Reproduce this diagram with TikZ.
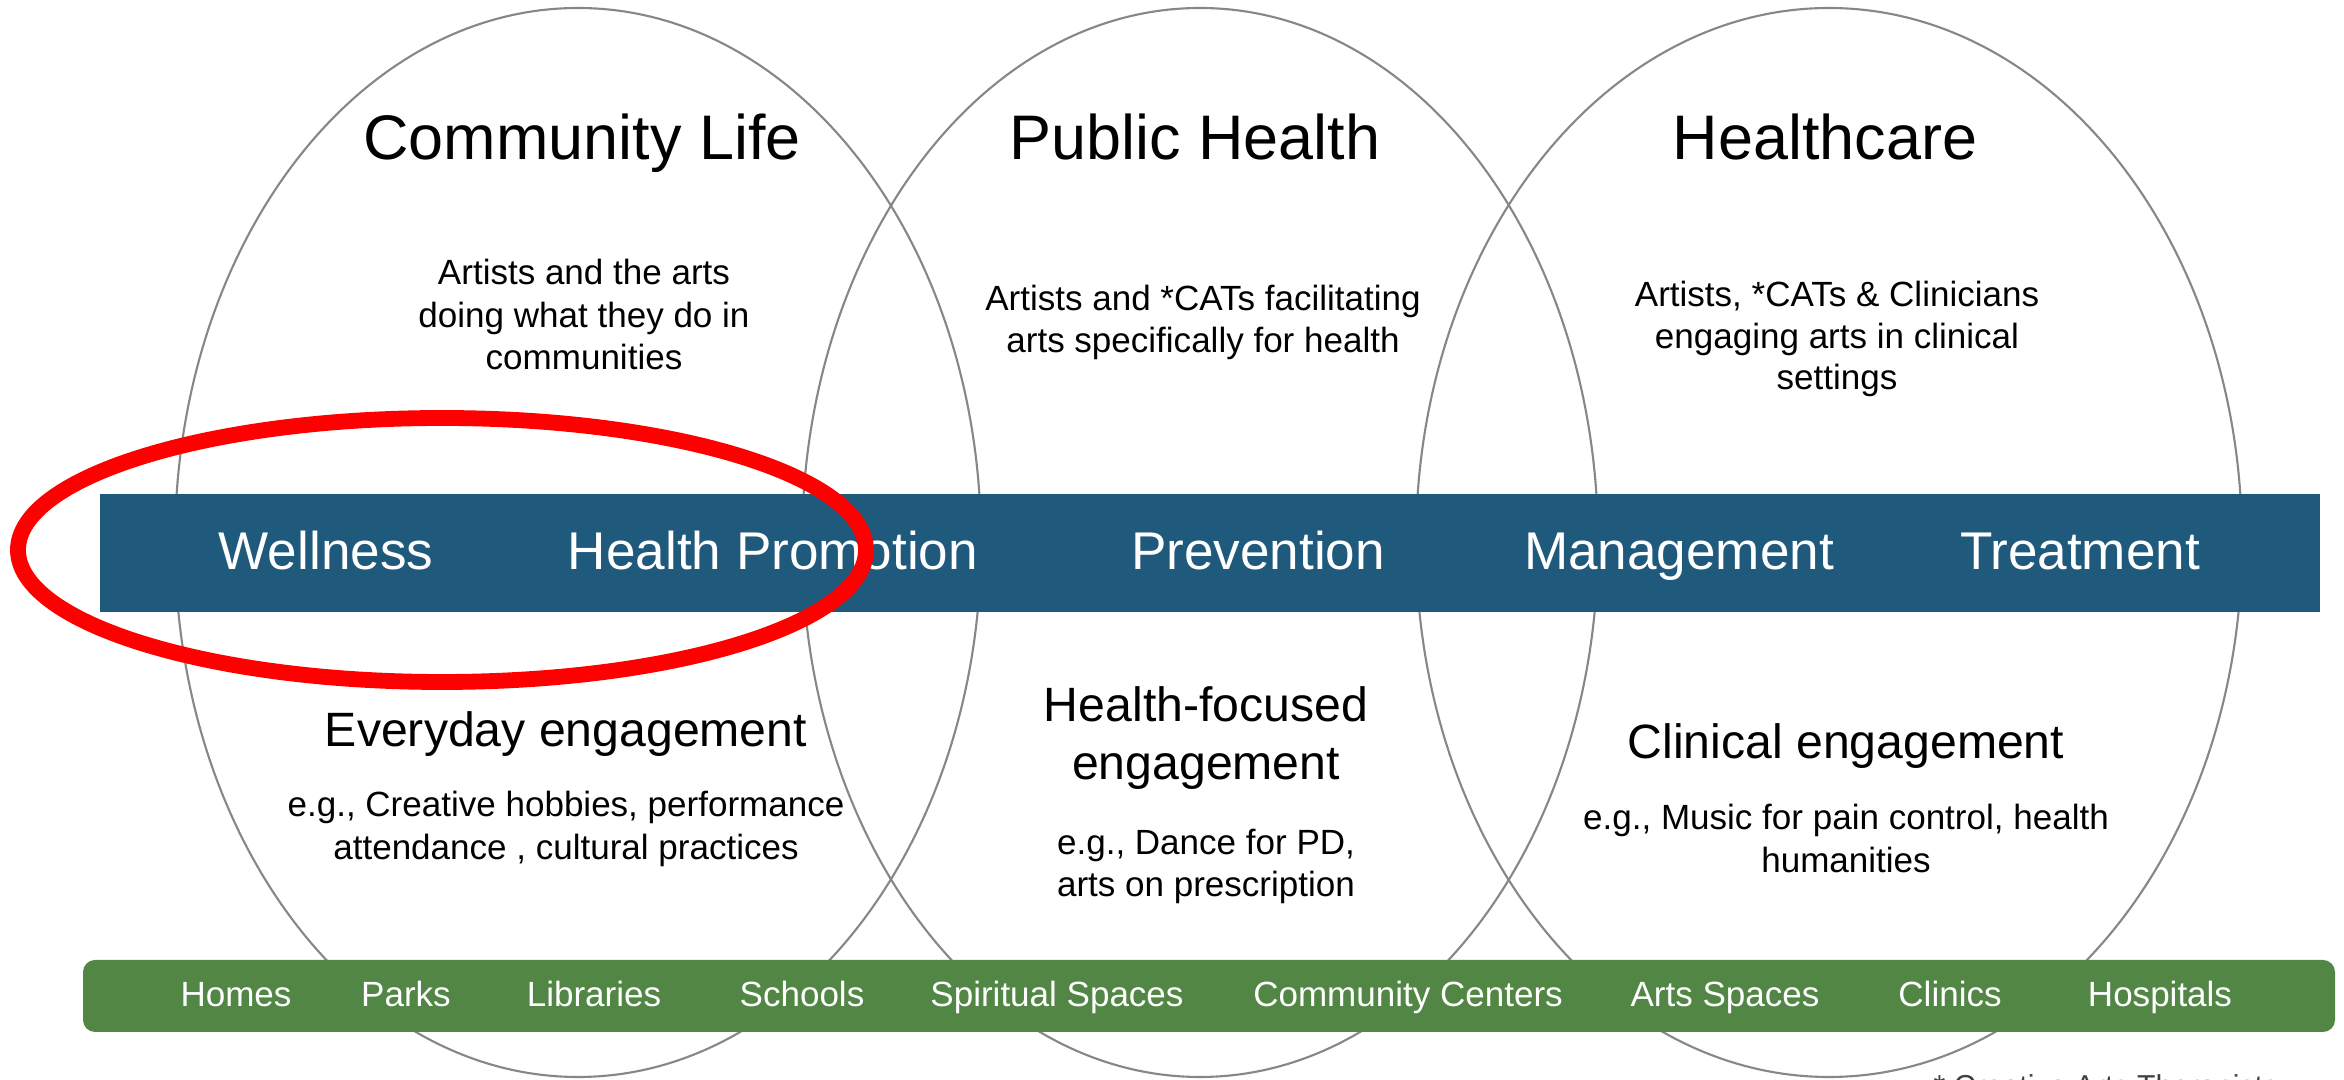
\documentclass[tikz,border=0pt]{standalone}
\usepackage{fontspec}
\setmainfont{Liberation Sans}
\definecolor{barblue}{RGB}{31,89,124}
\definecolor{bargreen}{RGB}{82,134,68}
\definecolor{ringgray}{RGB}{135,135,135}
\tikzset{
  ring/.style={draw=ringgray, line width=0.6pt},
  titletext/.style={font=\fontsize{17.9}{20}\selectfont, anchor=base, inner sep=0pt},
  bodytext/.style={font=\fontsize{9.96}{12}\selectfont, anchor=base, inner sep=0pt},
  headtext/.style={font=\fontsize{13.7}{16}\selectfont, anchor=base, inner sep=0pt},
  bartext/.style={font=\fontsize{15.1}{18}\selectfont, text=white, anchor=base, inner sep=0pt},
  placetext/.style={font=\fontsize{9.96}{12}\selectfont, text=white, anchor=base, inner sep=0pt},
  notetext/.style={font=\fontsize{8.6}{10}\selectfont, text=black!75, anchor=north west, inner sep=0pt},
  bluebar/.style={fill=barblue},
  greenbar/.style={fill=bargreen, rounded corners=0.12cm},
  highlight/.style={draw=red, line width=4.5pt},
}
\begin{document}
\begin{tikzpicture}[x=0.01cm, y=-0.01cm]
\useasboundingbox (0,0) rectangle (2344,1080);
\clip (0,0) rectangle (2344,1080);
\fill[white] (0,0) rectangle (2344,1080);

% the three circles of the model
\coordinate (c1) at (578,542.5);
\coordinate (c2) at (1200,542.5);
\coordinate (c3) at (1829,542.5);
\draw[ring] (c1) ellipse [x radius=403, y radius=534.5];
\draw[ring] (c2) ellipse [x radius=398, y radius=534.5];
\draw[ring] (c3) ellipse [x radius=413, y radius=534.5];

% titles
\node[titletext] (t1) at (582,160) {Community Life};
\node[titletext] (t2) at (1195,160) {Public Health};
\node[titletext] (t3) at (1825,160) {Healthcare};

% descriptions
\node[bodytext] (d1a) at (584,285) {Artists and the arts};
\node[bodytext] (d1b) at (584,328) {doing what they do in};
\node[bodytext] (d1c) at (584,370) {communities};
\node[bodytext] (d2a) at (1203,311) {Artists and *CATs facilitating};
\node[bodytext] (d2b) at (1203,353) {arts specifically for health};
\node[bodytext] (d3a) at (1837,307) {Artists, *CATs \& Clinicians};
\node[bodytext] (d3b) at (1837,349) {engaging arts in clinical};
\node[bodytext] (d3c) at (1837,390) {settings};

% engagement headings
\node[headtext] (h1) at (566,747) {Everyday engagement};
\node[headtext] (h2a) at (1206,722) {Health-focused};
\node[headtext] (h2b) at (1206,780) {engagement};
\node[headtext] (h3) at (1846,759) {Clinical engagement};

% examples
\node[bodytext] (e1a) at (566,817) {e.g., Creative hobbies, performance};
\node[bodytext] (e1b) at (566,860) {attendance , cultural practices};
\node[bodytext] (e2a) at (1206,855) {e.g., Dance for PD,};
\node[bodytext] (e2b) at (1206,897) {arts on prescription};
\node[bodytext] (e3a) at (1846,830) {e.g., Music for pain control, health};
\node[bodytext] (e3b) at (1846,873) {humanities};

% continuum bar
\fill[bluebar] (100,494) rectangle (2320,612);
\node[bartext] (b1) at (326,570) {Wellness};
\node[bartext] (b2) at (773,570) {Health Promotion};
\node[bartext] (b3) at (1258,570) {Prevention};
\node[bartext] (b4) at (1679,570) {Management};
\node[bartext] (b5) at (2080,570) {Treatment};

% settings bar
\fill[greenbar] (83,960) rectangle (2335,1032);
\node[placetext] (p1) at (236,1007) {Homes};
\node[placetext] (p2) at (406,1007) {Parks};
\node[placetext] (p3) at (594,1007) {Libraries};
\node[placetext] (p4) at (802,1007) {Schools};
\node[placetext] (p5) at (1057,1007) {Spiritual Spaces};
\node[placetext] (p6) at (1408,1007) {Community Centers};
\node[placetext] (p7) at (1725,1007) {Arts Spaces};
\node[placetext] (p8) at (1950,1007) {Clinics};
\node[placetext] (p9) at (2160,1007) {Hospitals};

% footnote, cut by the lower edge
\node[notetext] (fn) at (1933,1074) {* Creative Arts Therapists};

% red highlight
\coordinate (hc) at (442,550);
\draw[highlight] (hc) ellipse [x radius=424, y radius=132];
\end{tikzpicture}
\end{document}
